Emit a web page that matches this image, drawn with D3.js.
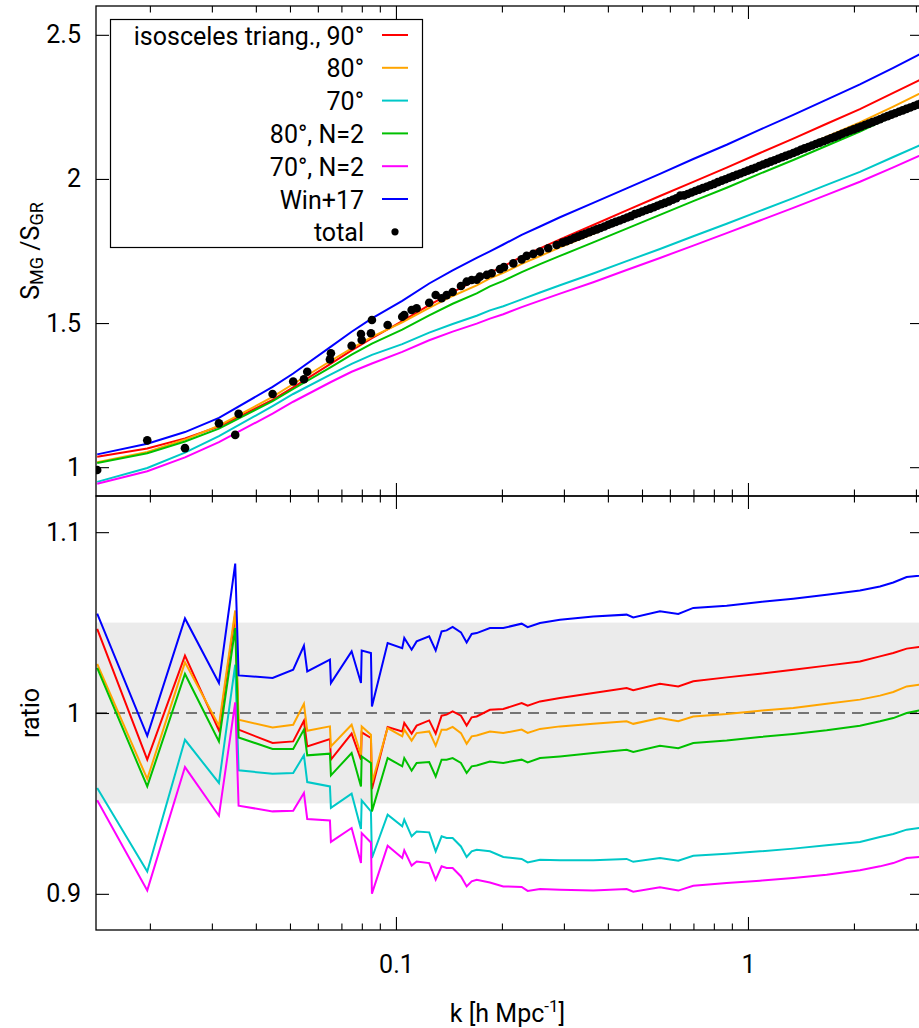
<!DOCTYPE html>
<html>

<head>
  <meta charset="UTF-8" />
  <title>S_MG / S_GR</title>
  <script src="https://cdn.jsdelivr.net/npm/d3@7/dist/d3.min.js"></script>
</head>
<style>
  body {
    margin: 0;
    background: #fff;
  }

  svg {
    display: block;
    font-family: Roboto, sans-serif;
  }
</style>

<body>
  <svg width="919" height="1028"></svg>
  <script>
    // model curves, top panel
    var kModel = [0.01417, 0.01966, 0.02516, 0.03142, 0.04463, 0.05107, 0.06536, 0.07484, 0.08547, 0.1042,
      0.1243, 0.1449, 0.1696, 0.1849, 0.2018, 0.2276, 0.2566, 0.2924, 0.3635, 0.4522,
      0.5623, 0.6993, 0.8700, 1.0817, 1.345, 1.673, 2.080, 2.587, 3.061, 3.142];
    var iso90 = [1.0360, 1.0648, 1.0998, 1.1409, 1.2332, 1.2766, 1.3590, 1.4053, 1.4473, 1.5066,
      1.5620, 1.6070, 1.6500, 1.6750, 1.6967, 1.7305, 1.7592, 1.7902, 1.8402, 1.8912,
      1.9409, 1.9897, 2.0394, 2.0899, 2.1400, 2.1915, 2.2421, 2.2989, 2.3420, 2.3490];
    var iso80 = [1.0168, 1.0531, 1.0958, 1.1439, 1.2440, 1.2886, 1.3692, 1.4123, 1.4522, 1.5025,
      1.5530, 1.5940, 1.6310, 1.6549, 1.6742, 1.7052, 1.7326, 1.7624, 1.8093, 1.8569,
      1.9047, 1.9518, 1.9988, 2.0482, 2.0959, 2.1464, 2.1961, 2.2508, 2.2947, 2.3015];
    var iso70 = [0.9489, 0.9973, 1.0502, 1.1074, 1.2119, 1.2539, 1.3218, 1.3581, 1.3895, 1.4267,
      1.4670, 1.4969, 1.5253, 1.5441, 1.5583, 1.5821, 1.6062, 1.6310, 1.6719, 1.7149,
      1.7568, 1.8012, 1.8444, 1.8890, 1.9333, 1.9792, 2.0246, 2.0761, 2.1158, 2.1220];
    var iso80N2 = [1.0147, 1.0486, 1.0890, 1.1339, 1.2290, 1.2712, 1.3469, 1.3901, 1.4285, 1.4772,
      1.5270, 1.5670, 1.6030, 1.6272, 1.6463, 1.6766, 1.7045, 1.7329, 1.7798, 1.8276,
      1.8754, 1.9231, 1.9696, 2.0183, 2.0658, 2.1150, 2.1647, 2.2188, 2.2627, 2.2695];
    var iso70N2 = [0.9422, 0.9858, 1.0341, 1.0866, 1.1858, 1.2270, 1.2955, 1.3311, 1.3598, 1.4000,
      1.4403, 1.4702, 1.4979, 1.5153, 1.5306, 1.5554, 1.5779, 1.6020, 1.6415, 1.6840,
      1.7259, 1.7687, 1.8120, 1.8559, 1.8994, 1.9446, 1.9903, 2.0403, 2.0796, 2.0857];
    var win17 = [1.0444, 1.0810, 1.1218, 1.1711, 1.2783, 1.3250, 1.4182, 1.4700, 1.5161, 1.5767,
      1.6373, 1.6830, 1.7260, 1.7490, 1.7726, 1.8060, 1.8350, 1.8671, 1.9172, 1.9670,
      2.0173, 2.0691, 2.1186, 2.1711, 2.2221, 2.2752, 2.3278, 2.3856, 2.4310, 2.4380];

    // measured total
    var kTotal = [0.01417, 0.01966, 0.02516, 0.03142, 0.03495, 0.03573, 0.04463, 0.05107, 0.05478, 0.05598,
      0.06494, 0.06536, 0.07484, 0.07956, 0.07993, 0.08492, 0.08547, 0.09472, 0.1042, 0.1056,
      0.1108, 0.1145, 0.1243, 0.1297, 0.1348, 0.1393, 0.1449, 0.1530, 0.1588, 0.1641, 0.1696,
      0.1732, 0.1810, 0.1870, 0.1975, 0.2027, 0.2155, 0.2276, 0.2351, 0.2455, 0.2566, 0.2708, 0.2861,
      0.297, 0.305, 0.313, 0.321, 0.329, 0.337, 0.345, 0.354, 0.363, 0.372,
      0.381, 0.391, 0.401, 0.411, 0.421, 0.432, 0.443, 0.454, 0.465, 0.477,
      0.489, 0.501, 0.514, 0.527, 0.540, 0.553, 0.567, 0.581, 0.596, 0.611,
      0.626, 0.642, 0.658, 0.674, 0.691, 0.708, 0.726, 0.744, 0.763, 0.782,
      0.801, 0.821, 0.842, 0.863, 0.884, 0.906, 0.929, 0.952, 0.976, 1.000,
      1.025, 1.050, 1.077, 1.104, 1.131, 1.160, 1.189, 1.218, 1.249, 1.280,
      1.312, 1.345, 1.378, 1.413, 1.448, 1.484, 1.521, 1.559, 1.598, 1.638,
      1.679, 1.721, 1.764, 1.808, 1.853, 1.900, 1.947, 1.996, 2.046, 2.097,
      2.149, 2.203, 2.258, 2.315, 2.372, 2.432, 2.492, 2.555, 2.619, 2.684,
      2.751, 2.820, 2.890, 2.963, 3.037, 3.113];
    var total = [0.990, 1.093, 1.066, 1.152, 1.112, 1.185, 1.254, 1.297, 1.305, 1.331,
      1.374, 1.395, 1.4215, 1.462, 1.441, 1.4645, 1.5107, 1.4933, 1.5221, 1.528,
      1.5454, 1.5513, 1.5707, 1.5974, 1.586, 1.597, 1.608, 1.6287, 1.6436, 1.6495, 1.650,
      1.661, 1.667, 1.673, 1.687, 1.694, 1.707, 1.721, 1.733, 1.740, 1.748, 1.7595, 1.771,
      1.779, 1.784, 1.789, 1.795, 1.800, 1.805, 1.810, 1.815, 1.820, 1.825,
      1.830, 1.835, 1.841, 1.846, 1.851, 1.856, 1.861, 1.866, 1.871, 1.878,
      1.882, 1.887, 1.892, 1.897, 1.902, 1.907, 1.912, 1.917, 1.922, 1.928,
      1.933, 1.942, 1.943, 1.948, 1.953, 1.958, 1.963, 1.968, 1.973, 1.978,
      1.983, 1.989, 1.994, 1.999, 2.004, 2.009, 2.014, 2.019, 2.024, 2.029,
      2.034, 2.039, 2.045, 2.050, 2.055, 2.060, 2.065, 2.070, 2.075, 2.080,
      2.085, 2.090, 2.095, 2.101, 2.106, 2.111, 2.116, 2.121, 2.126, 2.131,
      2.136, 2.141, 2.146, 2.151, 2.157, 2.162, 2.167, 2.172, 2.177, 2.182,
      2.187, 2.192, 2.197, 2.202, 2.207, 2.213, 2.218, 2.223, 2.228, 2.233,
      2.238, 2.243, 2.248, 2.253, 2.258, 2.264];

    // ratio to total, bottom panel
    var kRatio = [0.01417, 0.01966, 0.02516, 0.03142, 0.03495, 0.03573, 0.04463, 0.05107, 0.05478, 0.05598,
      0.06494, 0.06536, 0.07484, 0.07956, 0.07993, 0.08492, 0.08547, 0.09472, 0.1042, 0.1056,
      0.1108, 0.1145, 0.1243, 0.1297, 0.1348, 0.1393, 0.1449, 0.1530, 0.1588, 0.1641, 0.1696,
      0.1849, 0.2018, 0.2276, 0.2367, 0.2566, 0.2924, 0.3635, 0.4522, 0.4722, 0.5623,
      0.6339, 0.6993, 0.8700, 1.0817, 1.345, 1.673, 2.080, 2.371, 2.587, 2.824, 3.061, 3.142];
    var rIso90 = [1.0465, 0.9742, 1.0317, 0.9904, 1.0545, 0.9908, 0.9834, 0.9843, 0.9957, 0.9815,
      0.9856, 0.9742, 0.9886, 0.9742, 0.9893, 0.9862, 0.9580, 0.9923, 0.9898, 0.9945,
      0.9886, 0.9930, 0.9959, 0.9886, 0.9985, 0.9991, 1.0009, 0.9985, 0.9931, 0.9976, 0.9981,
      1.0018, 1.0022, 1.0055, 1.0040, 1.0064, 1.0083, 1.0111, 1.0138, 1.0126, 1.0162,
      1.0147, 1.0175, 1.0197, 1.0217, 1.0239, 1.0262, 1.0285, 1.0313, 1.0332, 1.0356, 1.0365, 1.0368];
    var rIso80 = [1.0271, 0.9635, 1.0280, 0.9930, 1.0567, 0.9963, 0.9920, 0.9935, 1.0051, 0.9902,
      0.9926, 0.9815, 0.9935, 0.9769, 0.9926, 0.9880, 0.9613, 0.9917, 0.9871, 0.9908,
      0.9847, 0.9889, 0.9898, 0.9819, 0.9908, 0.9908, 0.9923, 0.9889, 0.9830, 0.9871, 0.9876,
      0.9898, 0.9889, 0.9908, 0.9890, 0.9912, 0.9926, 0.9941, 0.9954, 0.9940, 0.9972,
      0.9955, 0.9981, 0.9994, 1.0013, 1.0028, 1.0051, 1.0074, 1.0096, 1.0116, 1.0147, 1.0156, 1.0158];
    var rIso70 = [0.9585, 0.9124, 0.9852, 0.9613, 1.0267, 0.9683, 0.9664, 0.9668, 0.9766, 0.9618,
      0.9594, 0.9475, 0.9554, 0.9359, 0.9517, 0.9456, 0.9198, 0.9438, 0.9373, 0.9410,
      0.9318, 0.9345, 0.9340, 0.9235, 0.9318, 0.9309, 0.9309, 0.9262, 0.9204, 0.9235, 0.9244,
      0.9235, 0.9204, 0.9193, 0.9174, 0.9189, 0.9186, 0.9186, 0.9193, 0.9177, 0.9198,
      0.9183, 0.9211, 0.9222, 0.9235, 0.9250, 0.9268, 0.9287, 0.9314, 0.9331, 0.9355, 0.9364, 0.9366];
    var rIso80N2 = [1.0249, 0.9594, 1.0216, 0.9843, 1.0470, 0.9865, 0.9801, 0.9801, 0.9908, 0.9766,
      0.9775, 0.9655, 0.9779, 0.9594, 0.9760, 0.9724, 0.9456, 0.9751, 0.9705, 0.9751,
      0.9681, 0.9724, 0.9729, 0.9649, 0.9742, 0.9742, 0.9751, 0.9724, 0.9668, 0.9705, 0.9710,
      0.9732, 0.9724, 0.9742, 0.9727, 0.9751, 0.9760, 0.9779, 0.9797, 0.9784, 0.9819,
      0.9805, 0.9834, 0.9848, 0.9867, 0.9884, 0.9904, 0.9930, 0.9954, 0.9972, 1.0000, 1.0014, 1.0016];
    var rIso70N2 = [0.9517, 0.9019, 0.9701, 0.9432, 1.0059, 0.9487, 0.9456, 0.9460, 0.9558, 0.9414,
      0.9406, 0.9287, 0.9364, 0.9170, 0.9336, 0.9284, 0.9001, 0.9266, 0.9198, 0.9240,
      0.9156, 0.9179, 0.9170, 0.9078, 0.9152, 0.9143, 0.9143, 0.9096, 0.9041, 0.9069, 0.9078,
      0.9063, 0.9041, 0.9038, 0.9016, 0.9027, 0.9023, 0.9019, 0.9027, 0.9012, 0.9036,
      0.9018, 0.9045, 0.9060, 0.9073, 0.9088, 0.9106, 0.9130, 0.9152, 0.9170, 0.9198, 0.9204, 0.9206];
    var rWin17 = [1.0549, 0.9874, 1.0523, 1.0166, 1.0826, 1.0208, 1.0194, 1.0239, 1.0372, 1.0230,
      1.0295, 1.0166, 1.0341, 1.0166, 1.0346, 1.0332, 1.0036, 1.0387, 1.0359, 1.0415,
      1.0350, 1.0396, 1.0424, 1.0346, 1.0451, 1.0457, 1.0476, 1.0446, 1.0390, 1.0437, 1.0442,
      1.0470, 1.0470, 1.0494, 1.0475, 1.0498, 1.0516, 1.0534, 1.0544, 1.0528, 1.0562,
      1.0548, 1.0581, 1.0593, 1.0614, 1.0632, 1.0654, 1.0678, 1.0700, 1.0722, 1.0752, 1.0759, 1.0762];

    var labels = ["isosceles triang., 90°", "80°", "70°", "80°, N=2", "70°, N=2", "Win+17"];
    var colors = ["#ff0000", "#ffa500", "#00c8c8", "#00c000", "#ff00ff", "#0000ff"];
    var topSeries = [iso90, iso80, iso70, iso80N2, iso70N2, win17];
    var ratioSeries = [rIso90, rIso80, rIso70, rIso80N2, rIso70N2, rWin17];

    var majorX = [0.1, 1];
    var minorX = [0.02, 0.03, 0.04, 0.05, 0.06, 0.07, 0.08, 0.09, 0.2, 0.3, 0.4, 0.5, 0.6, 0.7, 0.8, 0.9, 2, 3];
    var topTicks = [1, 1.5, 2, 2.5];
    var bottomTicks = [0.9, 1, 1.1];

    var fs = 25;
    var svg = d3.select("svg");
    var left = 96, right = 923, top1 = 6, mid = 496, bottom2 = 930;

    var x = d3.scaleLog().domain([0.01406, 3.142]).range([left, right]);
    var yTop = d3.scaleLinear().domain([0.9, 2.6]).range([mid, top1]);
    var yBot = d3.scaleLinear().domain([0.88, 1.12]).range([bottom2, mid]);

    var defs = svg.append("defs");
    defs.append("clipPath").attr("id", "clipTop")
      .append("rect").attr("x", left).attr("y", top1).attr("width", right - left).attr("height", mid - top1);
    defs.append("clipPath").attr("id", "clipBot")
      .append("rect").attr("x", left).attr("y", mid).attr("width", right - left).attr("height", bottom2 - mid);

    //下面板: 灰色带和虚线
    var gBot = svg.append("g").attr("clip-path", "url(#clipBot)");
    gBot.append("rect")
      .attr("x", left)
      .attr("width", right - left)
      .attr("y", yBot(1.05))
      .attr("height", yBot(0.95) - yBot(1.05))
      .attr("fill", "#ebebeb");
    gBot.append("line")
      .attr("x1", left).attr("x2", right)
      .attr("y1", yBot(1)).attr("y2", yBot(1))
      .attr("stroke", "#000")
      .attr("stroke-width", 1.2)
      .attr("stroke-dasharray", "11,7");

    var lineRatio = d3.line()
      .x(function (d, i) { return x(kRatio[i]); })
      .y(function (d) { return yBot(d); });
    gBot.selectAll("path.ratio")
      .data(ratioSeries)
      .enter()
      .append("path")
      .attr("class", "ratio")
      .attr("d", lineRatio)
      .attr("fill", "none")
      .attr("stroke", function (d, i) { return colors[i]; })
      .attr("stroke-width", 2)
      .attr("stroke-linejoin", "miter");

    //上面板
    var gTop = svg.append("g").attr("clip-path", "url(#clipTop)");
    var lineTop = d3.line()
      .x(function (d, i) { return x(kModel[i]); })
      .y(function (d) { return yTop(d); });
    gTop.selectAll("path.model")
      .data(topSeries)
      .enter()
      .append("path")
      .attr("class", "model")
      .attr("d", lineTop)
      .attr("fill", "none")
      .attr("stroke", function (d, i) { return colors[i]; })
      .attr("stroke-width", 2);
    gTop.selectAll("circle")
      .data(total)
      .enter()
      .append("circle")
      .attr("cx", function (d, i) { return x(kTotal[i]); })
      .attr("cy", function (d) { return yTop(d); })
      .attr("r", 4.3)
      .attr("fill", "#000");

    //坐标轴
    function panel(yScale, yT, yB, ticks, xText) {
      var g = svg.append("g");
      g.append("g").attr("transform", "translate(0," + yB + ")")
        .call(d3.axisBottom(x).tickValues(minorX).tickSize(-6.5).tickFormat(""));
      g.append("g").attr("transform", "translate(0," + yB + ")")
        .call(d3.axisBottom(x).tickValues(majorX).tickSize(-13).tickPadding(25)
          .tickFormat(xText ? d3.format("") : ""));
      g.append("g").attr("transform", "translate(0," + yT + ")")
        .call(d3.axisTop(x).tickValues(minorX).tickSize(-6.5).tickFormat(""));
      g.append("g").attr("transform", "translate(0," + yT + ")")
        .call(d3.axisTop(x).tickValues(majorX).tickSize(-13).tickFormat(""));
      g.append("g").attr("transform", "translate(" + left + ",0)")
        .call(d3.axisLeft(yScale).tickValues(ticks).tickSize(-13).tickPadding(15).tickFormat(d3.format("")));
      g.append("g").attr("transform", "translate(" + right + ",0)")
        .call(d3.axisRight(yScale).tickValues(ticks).tickSize(-13).tickFormat(""));
      g.selectAll(".domain").remove();
      g.selectAll(".tick line").attr("stroke", "#000").attr("stroke-width", 1.1);
      g.selectAll("text")
        .attr("font-size", fs)
        .attr("font-family", "Roboto, sans-serif")
        .attr("fill", "#000");
      g.append("rect")
        .attr("x", left).attr("y", yT)
        .attr("width", right - left).attr("height", yB - yT)
        .attr("fill", "none")
        .attr("stroke", "#000")
        .attr("stroke-width", 1.3);
    }
    panel(yTop, top1, mid, topTicks, false);
    panel(yBot, mid, bottom2, bottomTicks, true);

    //图例
    var legend = svg.append("g").attr("font-size", fs);
    legend.append("rect")
      .attr("x", 110.5).attr("y", 19.5)
      .attr("width", 312).attr("height", 228)
      .attr("fill", "#fff")
      .attr("stroke", "#000")
      .attr("stroke-width", 1.2);
    labels.forEach(function (t, i) {
      var cy = 35 + i * 32.8;
      legend.append("text")
        .attr("x", 364).attr("y", cy + 9.5)
        .attr("text-anchor", "end")
        .text(t);
      legend.append("line")
        .attr("x1", 382).attr("x2", 408)
        .attr("y1", cy).attr("y2", cy)
        .attr("stroke", colors[i])
        .attr("stroke-width", 2);
    });
    legend.append("text")
      .attr("x", 364).attr("y", 35 + 6 * 32.8 + 9.5)
      .attr("text-anchor", "end")
      .text("total");
    legend.append("circle")
      .attr("cx", 395).attr("cy", 35 + 6 * 32.8)
      .attr("r", 3.6)
      .attr("fill", "#000");

    //轴标题
    var yl = svg.append("text")
      .attr("transform", "translate(39," + (top1 + mid) / 2 + ") rotate(-90)")
      .attr("text-anchor", "middle")
      .attr("font-size", fs);
    yl.append("tspan").text("S");
    yl.append("tspan").attr("dy", 4).attr("font-size", 18).text("MG");
    yl.append("tspan").attr("dy", -4).text(" /S");
    yl.append("tspan").attr("dy", 4).attr("font-size", 18).text("GR");

    svg.append("text")
      .attr("transform", "translate(39," + yBot(1) + ") rotate(-90)")
      .attr("text-anchor", "middle")
      .attr("font-size", fs)
      .text("ratio");

    var xl = svg.append("text")
      .attr("x", (left + 919) / 2)
      .attr("y", 1022)
      .attr("text-anchor", "middle")
      .attr("font-size", fs);
    xl.append("tspan").text("k [h Mpc");
    xl.append("tspan").attr("dy", -10).attr("font-size", 17).text("-1");
    xl.append("tspan").attr("dy", 10).text("]");
  </script>
</body>

</html>
